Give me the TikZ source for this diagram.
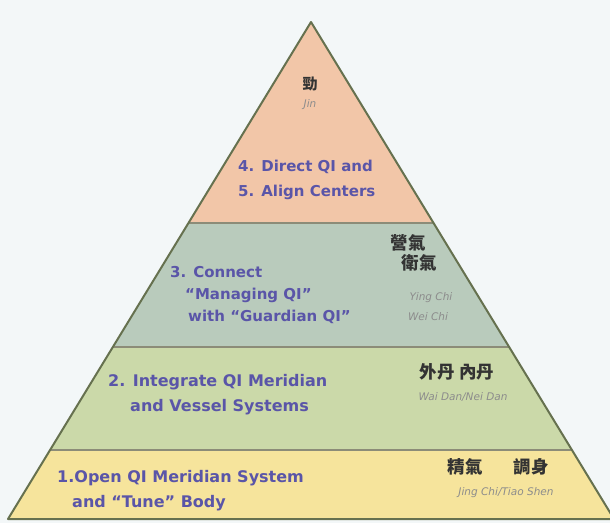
\documentclass[tikz,border=0pt]{standalone}
\usepackage{fontspec}
\setmainfont{DejaVu Sans}
\newfontfamily\cjk{Noto Sans CJK TC}
\definecolor{bg}{HTML}{F3F7F8}
\definecolor{peach}{HTML}{F2C6A8}
\definecolor{sage}{HTML}{B9CBBC}
\definecolor{leaf}{HTML}{CBD9A9}
\definecolor{butter}{HTML}{F6E49C}
\definecolor{rim}{HTML}{66714F}
\definecolor{seam}{HTML}{8C8C78}
\definecolor{ink}{HTML}{5A55A8}
\tikzset{
  stagetxt/.style={text=ink,font=\bfseries\fontsize{15}{25}\selectfont,align=left,inner sep=0pt},
  hanzi/.style={text=black!80,font=\cjk\bfseries\fontsize{17.5}{20}\selectfont,inner sep=0pt},
  pinyin/.style={text=black!45,font=\itshape\fontsize{10.5}{19}\selectfont,inner sep=0pt}
}
\begin{document}
\begin{tikzpicture}[x=1pt,y=-1pt]
\clip (0,0) rectangle (610,523);
\fill[bg] (0,0) rectangle (610,523);
% corners of the pyramid and its bands
\coordinate (top) at (311,22);
\coordinate (l1) at (188.5,223); \coordinate (r1) at (433.5,223);
\coordinate (l2) at (112.9,347); \coordinate (r2) at (509.1,347);
\coordinate (l3) at (50.1,450);  \coordinate (r3) at (571.9,450);
\coordinate (l4) at (8,519);     \coordinate (r4) at (614,519);
\fill[peach]  (top)--(r1)--(l1)--cycle;
\fill[sage]   (l1)--(r1)--(r2)--(l2)--cycle;
\fill[leaf]   (l2)--(r2)--(r3)--(l3)--cycle;
\fill[butter] (l3)--(r3)--(r4)--(l4)--cycle;
\draw[seam,line width=2.5pt] (l1)--(r1);
\draw[seam,line width=2.5pt] (l2)--(r2);
\draw[seam,line width=2.5pt] (l3)--(r3);
\draw[rim,line width=2pt,line join=round] (top)--(r4)--(l4)--cycle;
% top band
\node[hanzi,font=\cjk\bfseries\fontsize{15}{18}\selectfont] (jin) at (310,84) {勁};
\node[pinyin] (jinpy) at (310,105) {Jin};
\node[stagetxt,anchor=west] (step4) at (238,179.5) {4. Direct QI and\\5. Align Centers};
% second band
\node[stagetxt,anchor=west,font=\bfseries\fontsize{15}{22}\selectfont] (step3) at (170,295)
  {3. Connect\\\hspace*{15pt}“Managing QI”\\\hspace*{18pt}with “Guardian QI”};
\node[hanzi] (ying) at (408,243) {營氣};
\node[hanzi] (wei) at (419,263) {衛氣};
\node[pinyin] (yingpy) at (431,298) {Ying Chi};
\node[pinyin] (weipy) at (428,317) {Wei Chi};
% third band
\node[stagetxt,anchor=west,font=\bfseries\fontsize{16}{25}\selectfont] (step2) at (108,394.5)
  {2. Integrate QI Meridian\\\hspace*{22pt}and Vessel Systems};
\node[hanzi] (dan) at (457,372) {外丹\hspace{5pt}內丹};
\node[pinyin] (danpy) at (463,397) {Wai Dan/Nei Dan};
% bottom band
\node[stagetxt,anchor=west,font=\bfseries\fontsize{16}{25}\selectfont] (step1) at (57,490.5)
  {1.Open QI Meridian System\\\hspace*{15pt}and “Tune” Body};
\node[hanzi] (jing) at (465,467) {精氣};
\node[hanzi] (tiao) at (531,467) {調身};
\node[pinyin] (jingpy) at (506,493) {Jing Chi/Tiao Shen};
\end{tikzpicture}
\end{document}
